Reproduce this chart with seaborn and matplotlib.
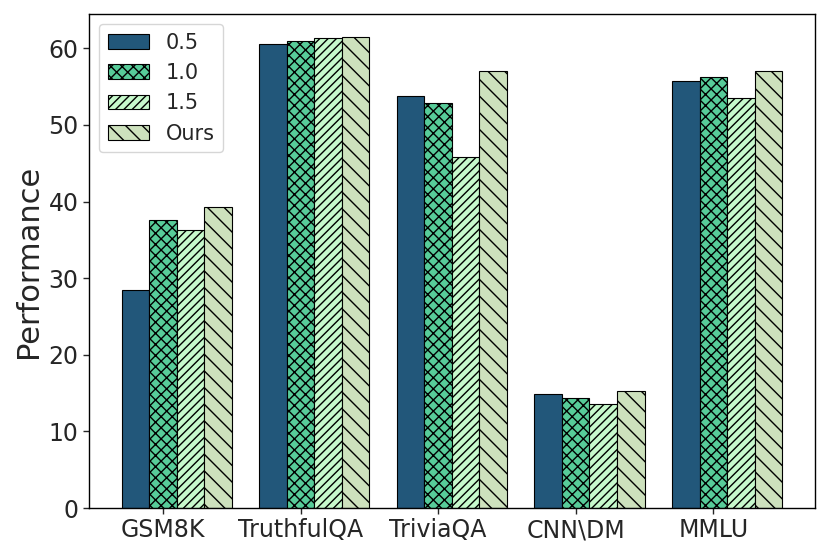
import numpy as np
import pandas as pd
import seaborn as sns
import matplotlib
matplotlib.use("Agg")
import matplotlib.pyplot as plt
from matplotlib.patches import Patch

# data
tasks = ["GSM8K", "TruthfulQA", "TriviaQA", "CNN\\DM", "MMLU"]
settings = ["0.5", "1.0", "1.5", "Ours"]
vals_05 = [28.4, 60.6, 53.8, 14.9, 55.8]
vals_10 = [37.6, 61.0, 52.8, 14.4, 56.2]
vals_15 = [36.3, 61.3, 45.8, 13.6, 53.5]
vals_ours = [39.3, 61.5, 57.1, 15.3, 57.1]

colors = ["#22577a", "#57cc99", "#c7f9cc", "#cde1bd"]
hatches = ["", "xxx", "////", "\\\\"]

df = pd.DataFrame({
    "task": tasks * 4,
    "setting": sum([[s] * len(tasks) for s in settings], []),
    "value": vals_05 + vals_10 + vals_15 + vals_ours,
})

sns.set_style("white")
plt.rcParams["font.family"] = ["DejaVu Sans"]
plt.rcParams["hatch.linewidth"] = 1.0

fig = plt.figure(figsize=(8.3, 5.54), dpi=100)
ax = fig.add_axes([0.107, 0.083, 0.875, 0.892])

sns.barplot(data=df, x="task", y="value", hue="setting", order=tasks,
            hue_order=settings, palette=colors, saturation=1, width=0.8,
            dodge=True, edgecolor="black", linewidth=0.8, ax=ax, legend=False)

# apply hatches per hue level
for container, h in zip(ax.containers, hatches):
    for bar in container:
        bar.set_hatch(h)

ax.set_xlim(-0.64, 4.64)
ax.set_ylim(0, 64.5)
ax.set_xticks(np.arange(len(tasks)) - 0.1)
ax.set_xticklabels(tasks, fontsize=17)
ax.set_yticks([0, 10, 20, 30, 40, 50, 60])
ax.tick_params(axis="y", labelsize=17)
ax.tick_params(axis="both", length=4, width=1, bottom=True, left=True)
ax.set_xlabel("")
ax.set_ylabel("Performance", fontsize=22)
for sp in ax.spines.values():
    sp.set_color("black")
    sp.set_linewidth(1)

handles = [Patch(facecolor=c, edgecolor="black", hatch=h, linewidth=0.8, label=s)
           for c, h, s in zip(colors, hatches, settings)]
ax.legend(handles=handles, loc="upper left", fontsize=15, handlelength=2.0,
          frameon=True)

fig.savefig("out.png", dpi=100)
